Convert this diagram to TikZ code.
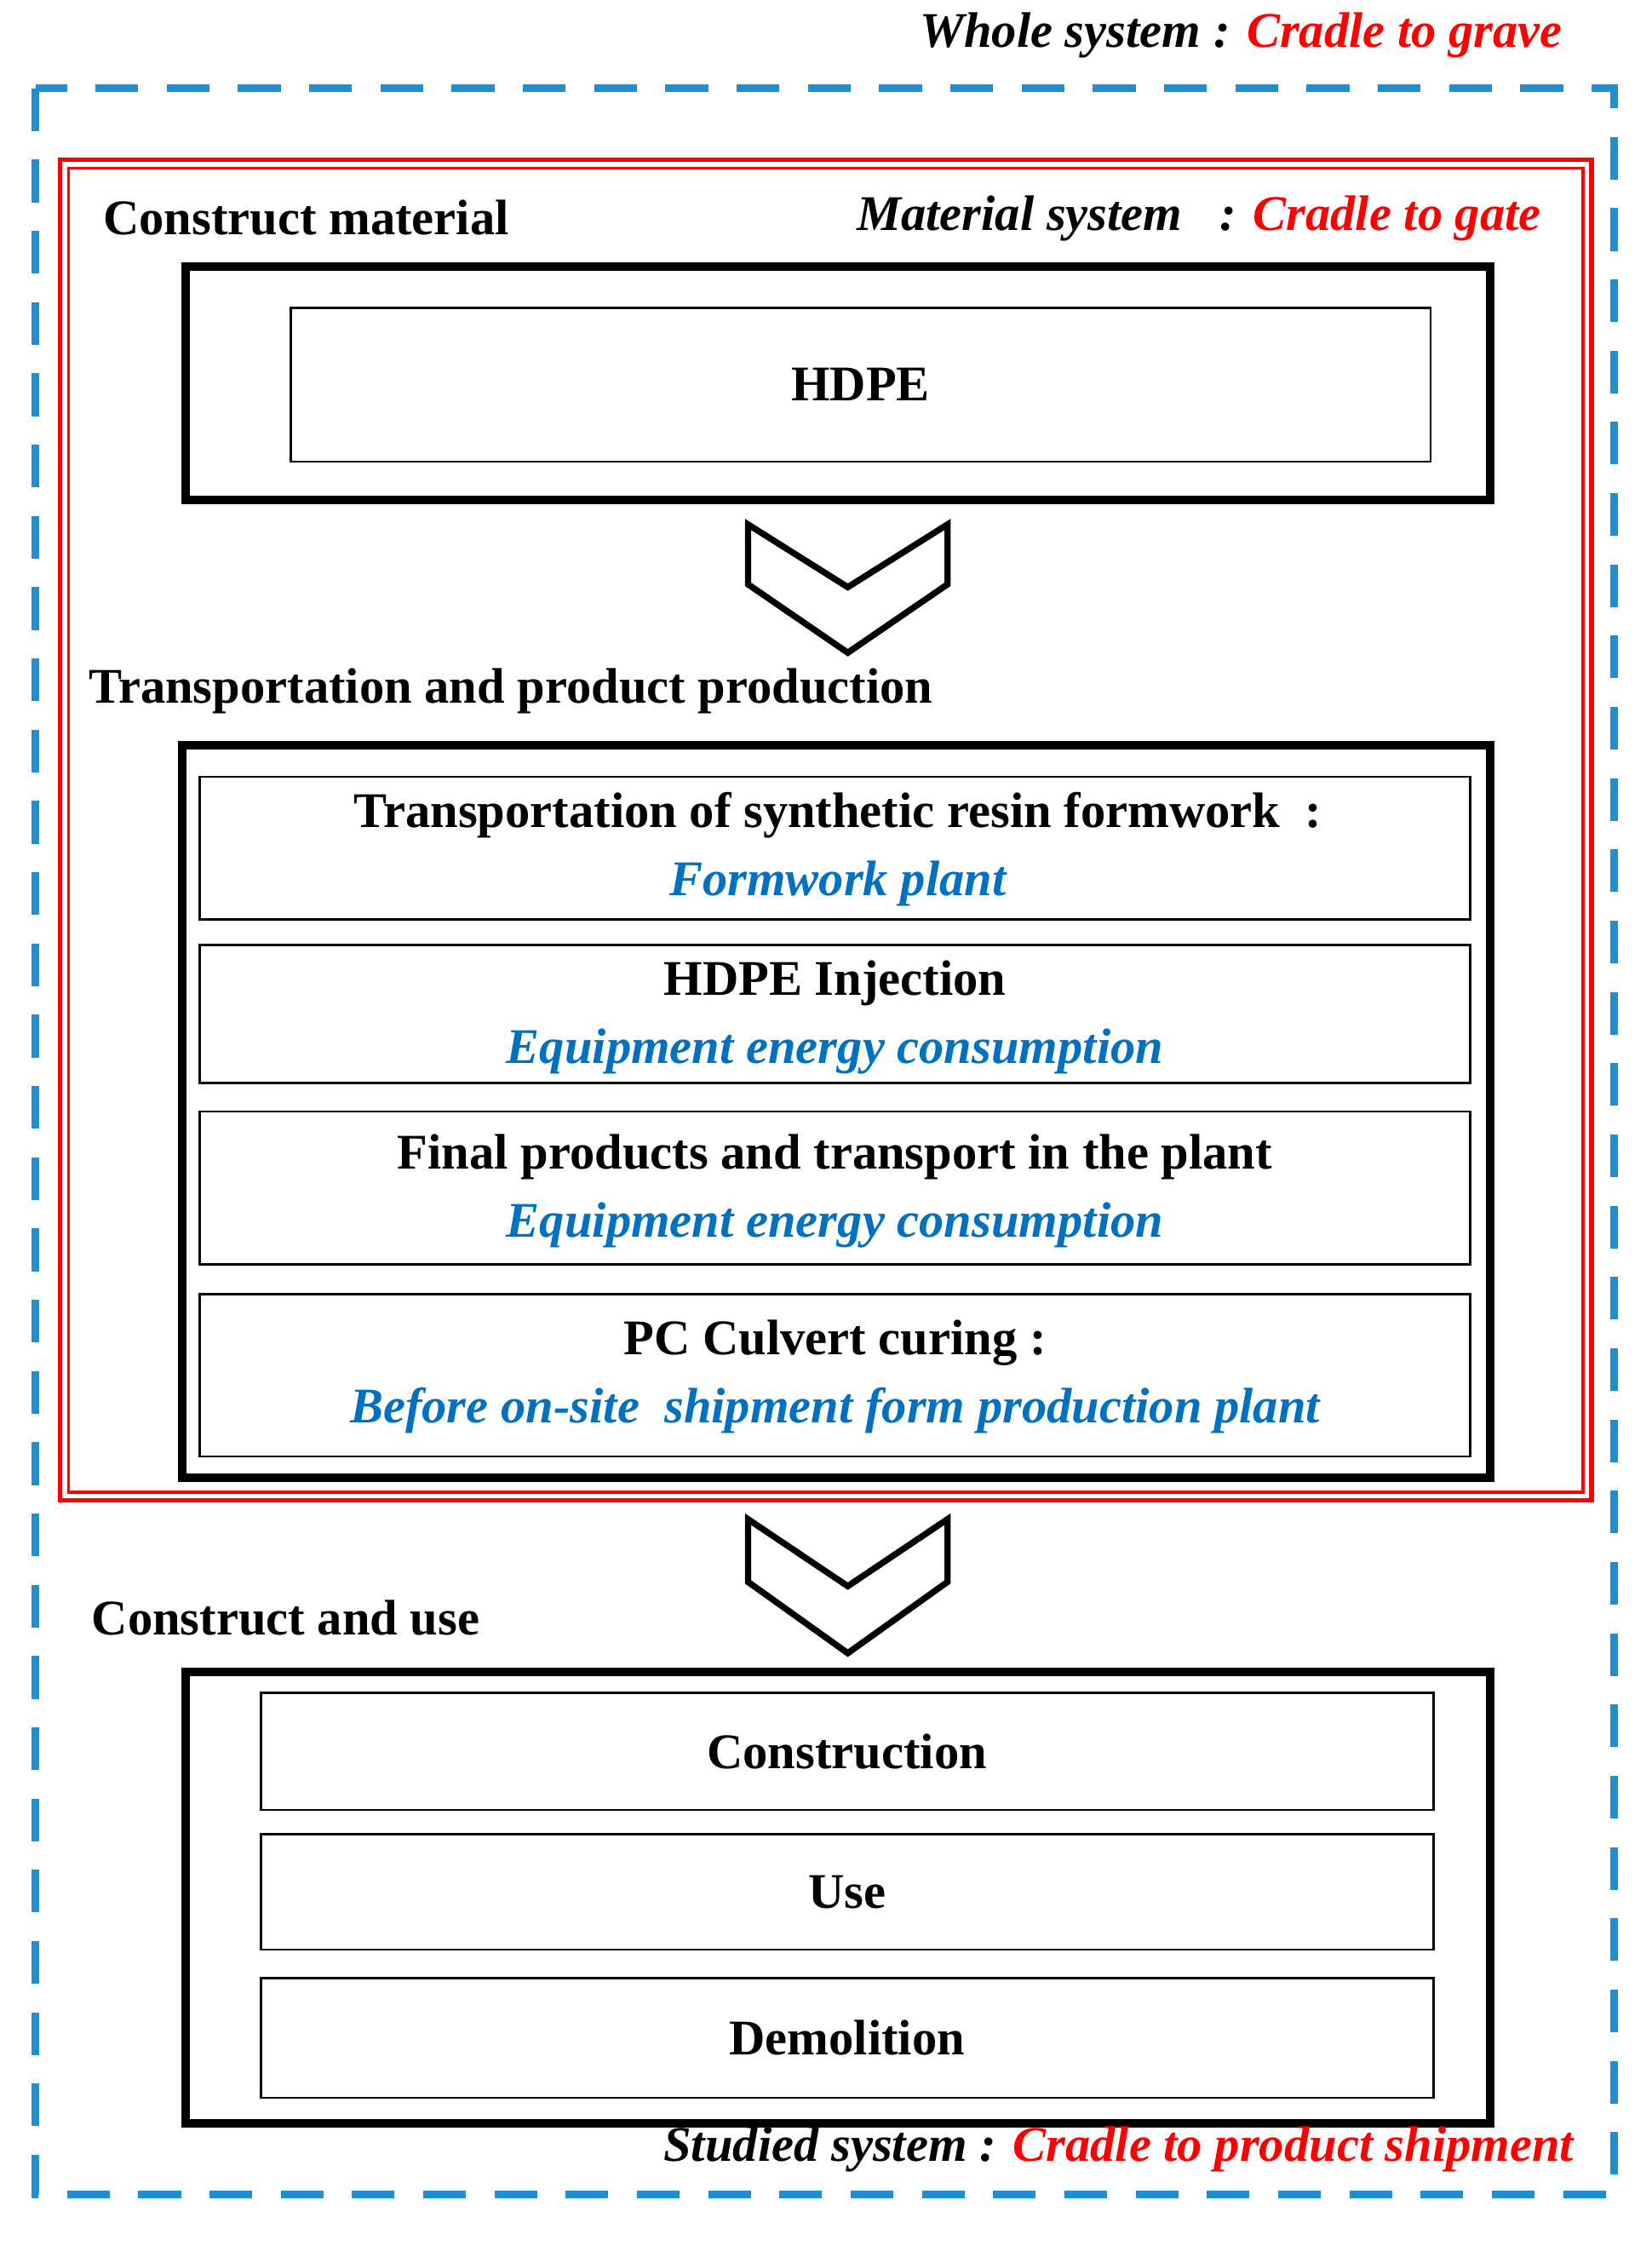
\documentclass[tikz,border=0pt]{standalone}
\usepackage{fontspec}
\setmainfont{Liberation Serif}
\definecolor{dblue}{RGB}{30,144,210}
\definecolor{tblue}{RGB}{0,112,192}
\begin{document}
\begin{tikzpicture}[x=0.5pt,y=-0.5pt,
  lab/.style={font=\fontsize{17.5}{20}\selectfont\bfseries,inner sep=0},
  ital/.style={font=\fontsize{17.5}{20}\selectfont\bfseries\itshape,inner sep=0},
  thick box/.style={draw=black,line width=3pt},
  thin box/.style={draw=black,line width=0.8pt},
  chev/.style={draw=black,line width=2.2pt,line join=miter,fill=white}]
\useasboundingbox (0,0) rectangle (1159,1576);
\draw[dblue,line width=2.6pt,dash pattern=on 15pt off 10pt] (25,62) rectangle (1133,1540);
\node[ital,anchor=east] (whole) at (1097,25) {Whole system : \textcolor{red}{Cradle to grave}};
\draw[red,line width=1.5pt] (42,112) rectangle (1117,1053);
\draw[red,line width=1pt] (48,118) rectangle (1111,1047);
\node[lab,anchor=west] (cm) at (72,153) {Construct material};
\node[ital,anchor=east] (ms) at (1082,153) {Material system\ \ \ : \textcolor{red}{Cradle to gate}};
\draw[thick box] (130,187) rectangle (1046,351);
\node[thin box,lab,minimum width=400pt,minimum height=54pt] (hdpe) at (604,270) {HDPE};
\draw[chev] (525,368) -- (595,412) -- (665,368) -- (665,410) -- (595,458) -- (525,410) -- cycle;
\node[lab,anchor=west] (tp) at (62,485) {Transportation and product production};
\draw[thick box] (128,523) rectangle (1046,1037);
\draw[thin box] (140,545) rectangle (1032,645);
\node[lab] (t1) at (588,572) {Transportation of synthetic resin formwork\ \ :};
\node[ital,text=tblue] (t1b) at (588,620) {Formwork plant};
\draw[thin box] (140,663) rectangle (1032,760);
\node[lab] (t2) at (586,690) {HDPE Injection};
\node[ital,text=tblue] (t2b) at (586,738) {Equipment energy consumption};
\draw[thin box] (140,780) rectangle (1032,887);
\node[lab] (t3) at (586,812) {Final products and transport in the plant};
\node[ital,text=tblue] (t3b) at (586,860) {Equipment energy consumption};
\draw[thin box] (140,908) rectangle (1032,1022);
\node[lab] (t4) at (586,942) {PC Culvert curing :};
\node[ital,text=tblue] (t4b) at (586,990) {Before on-site\ \ shipment form production plant};
\draw[chev] (525,1066) -- (595,1113) -- (665,1066) -- (665,1110) -- (595,1160) -- (525,1110) -- cycle;
\node[lab,anchor=west] (cu) at (64,1135) {Construct and use};
\draw[thick box] (130,1173) rectangle (1046,1490);
\node[thin box,lab,minimum width=411.5pt,minimum height=41pt] (c1) at (594.5,1229) {Construction};
\node[thin box,lab,minimum width=411.5pt,minimum height=40.5pt] (c2) at (594.5,1327.5) {Use};
\node[thin box,lab,minimum width=411.5pt,minimum height=42pt] (c3) at (594.5,1430) {Demolition};
\node[ital,anchor=east] (ss) at (1105,1508) {Studied system : \textcolor{red}{Cradle to product shipment}};
\end{tikzpicture}
\end{document}
